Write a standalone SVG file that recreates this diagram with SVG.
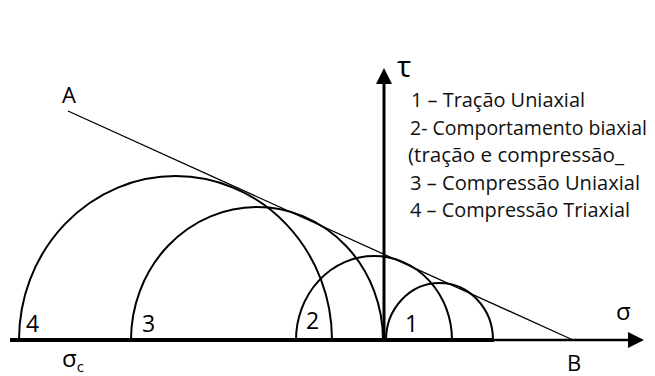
<svg xmlns="http://www.w3.org/2000/svg" width="655" height="376" viewBox="0 0 655 376">
<defs>
<style>
.arc{fill:none;stroke:#000;stroke-width:2}
.t{font-family:"Open Sans","Liberation Sans",sans-serif;fill:#000}
.lg{font-size:20.5px;fill:#111}
.num{font-size:23px}
</style>
<marker id="ah" markerUnits="userSpaceOnUse" markerWidth="16" markerHeight="16" viewBox="0 0 16 16" refX="1" refY="8" orient="auto"><path d="M0 0L16 8L0 16z" fill="#000"/></marker>
</defs>
<rect width="655" height="376" fill="#fff"/>
<g id="connectors">
<path id="sigma-axis-thick" d="M10 340H494" stroke="#000" stroke-width="4" fill="none"/>
<path id="sigma-axis" d="M493 340H629" stroke="#000" stroke-width="2.5" fill="none" marker-end="url(#ah)"/>
<path id="tau-axis" d="M384 341V83" stroke="#000" stroke-width="3" fill="none" marker-end="url(#ah)"/>
<path id="envelope" d="M68 111L573 340" stroke="#000" stroke-width="1.3" fill="none"/>
</g>
<g id="circle-4"><path class="arc" d="M19 340A156.5 164 0 0 1 332 340"/><text class="t num" x="26" y="332">4</text></g>
<g id="circle-3"><path class="arc" d="M131 340A126 133 0 0 1 383 340"/><text class="t num" x="142" y="332">3</text></g>
<g id="circle-2"><path class="arc" d="M296 340A78 84 0 0 1 452 340"/><text class="t num" x="306" y="329">2</text></g>
<g id="circle-1"><path class="arc" d="M386 340A53.5 57 0 0 1 493 340"/><text class="t num" x="405" y="332">1</text></g>
<g id="labels">
<text class="t" x="62" y="103" font-size="22">A</text>
<text class="t" x="567" y="371" font-size="22">B</text>
<text class="t" x="616" y="320" font-size="24">σ</text>
<text class="t" x="62" y="367" font-size="24">σ<tspan font-size="15" dy="5">c</tspan></text>
<text class="t" x="397" y="77" font-size="30" fill="#1b2a48">τ</text>
</g>
<g id="legend">
<text class="t lg" x="411" y="107" textLength="174" lengthAdjust="spacingAndGlyphs">1 – Tração Uniaxial</text>
<text class="t lg" x="410" y="134.5" font-size="19.5" style="font-size:19.5px" textLength="237" lengthAdjust="spacingAndGlyphs">2- Comportamento biaxial</text>
<text class="t lg" x="408" y="162" textLength="216" lengthAdjust="spacingAndGlyphs">(tração e compressão_</text>
<text class="t lg" x="410" y="189.5" textLength="230" lengthAdjust="spacingAndGlyphs">3 – Compressão Uniaxial</text>
<text class="t lg" x="410" y="217" textLength="220" lengthAdjust="spacingAndGlyphs">4 – Compressão Triaxial</text>
</g>
</svg>
